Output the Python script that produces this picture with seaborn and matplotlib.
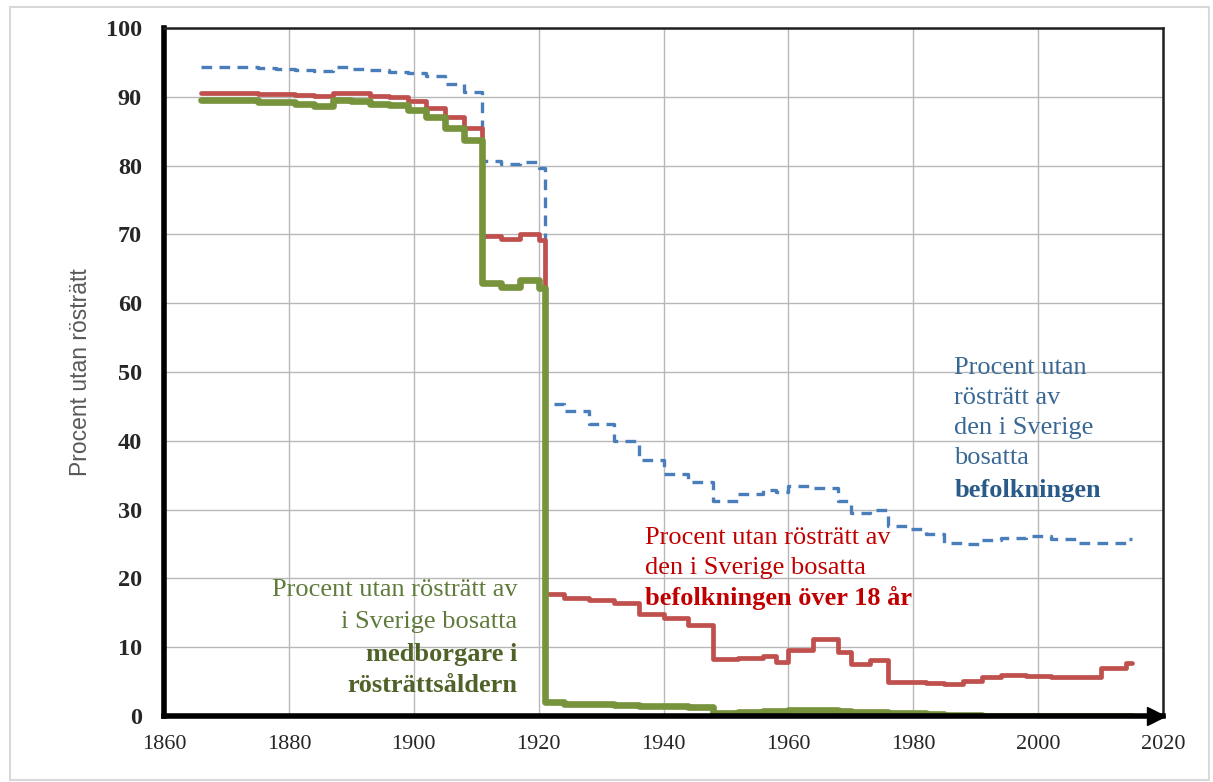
import numpy as np
import pandas as pd
import seaborn as sns
import matplotlib.pyplot as plt
from matplotlib.patches import Rectangle

# valår (sista punkten förlänger steget till 2015)
years = [1866, 1869, 1872, 1875, 1878, 1881, 1884, 1887, 1890, 1893, 1896, 1899,
         1902, 1905, 1908, 1911, 1914, 1917, 1920, 1921, 1924, 1928, 1932, 1936,
         1940, 1944, 1948, 1952, 1956, 1958, 1960, 1964, 1968, 1970, 1973, 1976,
         1979, 1982, 1985, 1988, 1991, 1994, 1998, 2002, 2006, 2010, 2014, 2015]

# hela befolkningen
befolkning = [94.4, 94.4, 94.4, 94.2, 94.0, 93.9, 93.8, 94.3, 94.0, 93.9, 93.6, 93.4,
              93.0, 91.9, 90.7, 80.7, 80.3, 80.5, 79.7, 45.4, 44.4, 42.4, 40.0, 37.2,
              35.2, 34.0, 31.2, 32.3, 32.8, 32.6, 33.4, 33.2, 31.3, 29.5, 30.0, 27.6,
              27.2, 26.5, 25.1, 25.0, 25.6, 25.9, 26.2, 25.7, 25.2, 25.2, 25.7, 25.7]

# befolkningen över 18 år
over18 = [90.6, 90.6, 90.6, 90.4, 90.4, 90.2, 90.1, 90.6, 90.5, 90.1, 90.0, 89.4,
          88.3, 87.0, 85.4, 69.8, 69.3, 70.0, 69.2, 17.7, 17.2, 16.9, 16.4, 14.8,
          14.3, 13.2, 8.3, 8.4, 8.7, 7.9, 9.6, 11.2, 9.3, 7.6, 8.2, 5.0,
          5.0, 4.8, 4.7, 5.1, 5.6, 5.9, 5.8, 5.7, 5.6, 7.0, 7.7, 7.7]

# medborgare i rösträttsåldern
medborgare = [89.6, 89.6, 89.6, 89.2, 89.2, 88.9, 88.7, 89.6, 89.4, 89.0, 88.8, 88.1,
              87.0, 85.5, 83.7, 63.0, 62.4, 63.3, 62.2, 2.1, 1.8, 1.7, 1.6, 1.5,
              1.4, 1.3, 0.4, 0.6, 0.7, 0.7, 0.8, 0.8, 0.7, 0.6, 0.6, 0.5,
              0.4, 0.3, 0.2, 0.2, 0.05, 0.05, 0.05, 0.05, 0.05, 0.05, 0.05, 0.05]

df = pd.DataFrame({'year': years, 'bef': befolkning, 'o18': over18, 'med': medborgare})

sns.set_theme(style='white')
plt.rcParams['font.family'] = ['Liberation Serif', 'DejaVu Serif']

fig = plt.figure(figsize=(12.13, 7.82), dpi=100)
ax = fig.add_axes([0.1352, 0.0844, 0.8236, 0.8798])

# linjer
sns.lineplot(data=df, x='year', y='bef', ax=ax, color='#4a7ebb', lw=2.4,
             linestyle=(0, (3.2, 2.2)), drawstyle='steps-post')
sns.lineplot(data=df, x='year', y='o18', ax=ax, color='#c0504d', lw=3.4,
             drawstyle='steps-post')
sns.lineplot(data=df, x='year', y='med', ax=ax, color='#77933c', lw=4.8,
             drawstyle='steps-post')

ax.set_xlim(1860, 2020)
ax.set_ylim(0, 100)
ax.set_xticks(range(1860, 2021, 20))
ax.set_yticks(range(0, 101, 10))
ax.grid(True, color='#b8b8b8', lw=1)
ax.tick_params(length=0)
ax.tick_params(axis='y', pad=16, labelsize=17.5)
ax.tick_params(axis='x', pad=14, labelsize=16)
for t in ax.get_yticklabels():
    t.set_fontweight('bold')

ax.set_xlabel('')
ax.set_ylabel('Procent utan rösträtt', family='Liberation Sans', fontsize=16.5,
              color='#595959', labelpad=10)

for s in ['left', 'bottom']:
    ax.spines[s].set_linewidth(4)
    ax.spines[s].set_color('black')
for s in ['top', 'right']:
    ax.spines[s].set_linewidth(1.8)
    ax.spines[s].set_color('#202020')
ax.plot(0.993, 0, '>', color='black', ms=13, transform=ax.transAxes, clip_on=False)

# textetiketter, en rad i taget: (text, y, fet)
green_lines = [('Procent utan rösträtt av', 18.3, False), ('i Sverige bosatta', 13.7, False),
               ('medborgare i', 9.0, True), ('rösträttsåldern', 4.5, True)]
red_lines = [('Procent utan rösträtt av', 25.9, False), ('den i Sverige bosatta', 21.5, False),
             ('befolkningen över 18 år', 17.2, True)]
blue_lines = [('Procent utan', 50.6, False), ('rösträtt av', 46.2, False),
              ('den i Sverige', 41.9, False), ('bosatta', 37.5, False),
              ('befolkningen', 32.8, True)]

for txt, y, bold in green_lines:
    ax.text(1916.6, y, txt, ha='right', va='center', fontsize=19,
            color='#4f6228' if bold else '#5f7b3c', fontweight='bold' if bold else 'normal')
for txt, y, bold in red_lines:
    ax.text(1937, y, txt, ha='left', va='center', fontsize=19,
            color='#c00000', fontweight='bold' if bold else 'normal')
for txt, y, bold in blue_lines:
    ax.text(1986.6, y, txt, ha='left', va='center', fontsize=19,
            color='#2a5a8a' if bold else '#3a6894', fontweight='bold' if bold else 'normal')

# ram runt figuren
fig.patches.append(Rectangle((0.008, 0.003), 0.989, 0.988, transform=fig.transFigure,
                             fill=False, edgecolor='#d9d9d9', lw=1.5))

fig.savefig('out.png', dpi=100)
